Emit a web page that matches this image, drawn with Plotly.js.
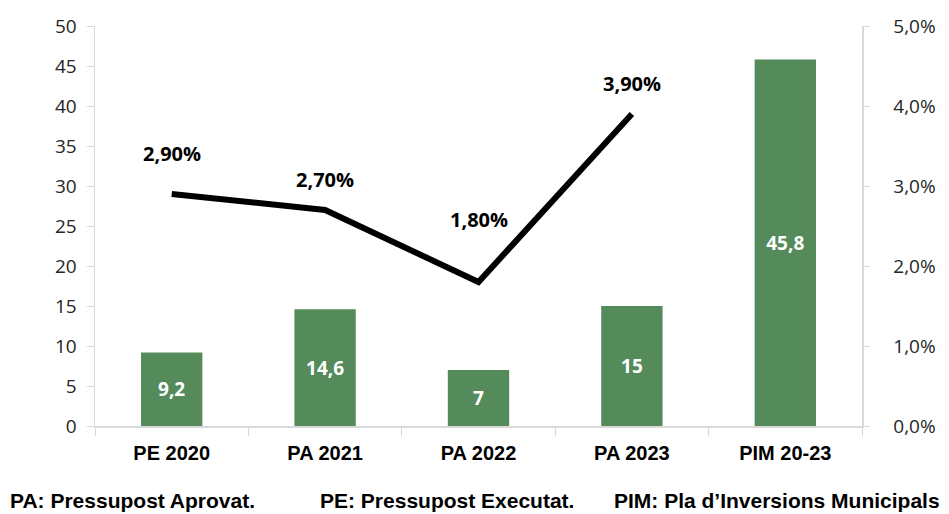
<!DOCTYPE html>
<html>
<head>
<meta charset="utf-8">
<script src="https://cdn.plot.ly/plotly-3.0.1.min.js"></script>
<style>
  html, body { margin: 0; padding: 0; background: #fff; }
  #chart { width: 949px; height: 514px; }
</style>
</head>
<body>
<div id="chart"></div>
<script>
var categories = ['PE 2020', 'PA 2021', 'PA 2022', 'PA 2023', 'PIM 20-23'];
var investment = [9.2, 14.6, 7, 15, 45.8];
var rateCats = ['PE 2020', 'PA 2021', 'PA 2022', 'PA 2023'];
var rates = [0.029, 0.027, 0.018, 0.039];
var footerNotes = ['PA: Pressupost Aprovat.', 'PE: Pressupost Executat.', 'PIM: Pla d\u2019Inversions Municipals'];

// label offsets above the line points (pixels)
var rateShift = [41, 31, 63, 31];
var footerX = [-0.113, 0.291, 0.674];

var fontFamily = '"Open Sans", "Noto Sans", sans-serif';
var arialLike = '"Liberation Sans", Arial, sans-serif';

var bars = {
    x: categories,
    y: investment,
    type: 'bar',
    width: 0.4,
    marker: { color: '#558b5b' },
    text: investment.map(function (v) { return String(v).replace('.', ','); }),
    textposition: 'inside',
    insidetextanchor: 'middle',
    textfont: { color: '#ffffff', size: 19, family: fontFamily, weight: 'bold' },
    hoverinfo: 'x+y',
    showlegend: false
};

var line = {
    x: rateCats,
    y: rates,
    yaxis: 'y2',
    type: 'scatter',
    mode: 'lines',
    line: { color: '#000000', width: 6 },
    showlegend: false
};

var annotations = rates.map(function (r, i) {
    return {
        x: rateCats[i], y: r, xref: 'x', yref: 'y2',
        text: (r * 100).toFixed(2).replace('.', ',') + '%',
        showarrow: false, yshift: rateShift[i],
        font: { size: 20, color: '#000', family: fontFamily, weight: 'bold' }
    };
});

footerNotes.forEach(function (t, i) {
    annotations.push({
        x: footerX[i], y: -0.185, xref: 'paper', yref: 'paper',
        xanchor: 'left', yanchor: 'middle',
        text: t, showarrow: false,
        font: { size: 21, color: '#000', family: arialLike, weight: 'bold' }
    });
});

var layout = {
    width: 949,
    height: 514,
    margin: { l: 95, r: 87, t: 26, b: 88 },
    paper_bgcolor: '#ffffff',
    plot_bgcolor: '#ffffff',
    separators: ',.',
    font: { family: fontFamily, size: 19, color: '#262626' },
    xaxis: {
        type: 'category',
        showline: true, linecolor: '#d9d9d9', linewidth: 1.5,
        ticks: 'outside', tickson: 'boundaries', ticklen: 8, tickcolor: '#d9d9d9',
        ticklabelstandoff: 8,
        tickfont: { size: 20, color: '#000', family: arialLike, weight: 'bold' },
        showgrid: false, zeroline: false
    },
    yaxis: {
        range: [0, 50], dtick: 5,
        showline: true, linecolor: '#d9d9d9', linewidth: 1.5,
        ticks: 'outside', ticklen: 7, tickcolor: '#d9d9d9',
        ticklabelstandoff: 6,
        showgrid: false, zeroline: false
    },
    yaxis2: {
        overlaying: 'y', side: 'right',
        range: [0, 0.05], dtick: 0.01, tickformat: '.1%',
        showline: true, linecolor: '#d9d9d9', linewidth: 1.5,
        ticks: 'outside', ticklen: 6, tickcolor: '#d9d9d9',
        ticklabelstandoff: 20,
        showgrid: false, zeroline: false
    },
    annotations: annotations
};

Plotly.newPlot('chart', [bars, line], layout, { displayModeBar: false, staticPlot: true });
</script>
</body>
</html>
